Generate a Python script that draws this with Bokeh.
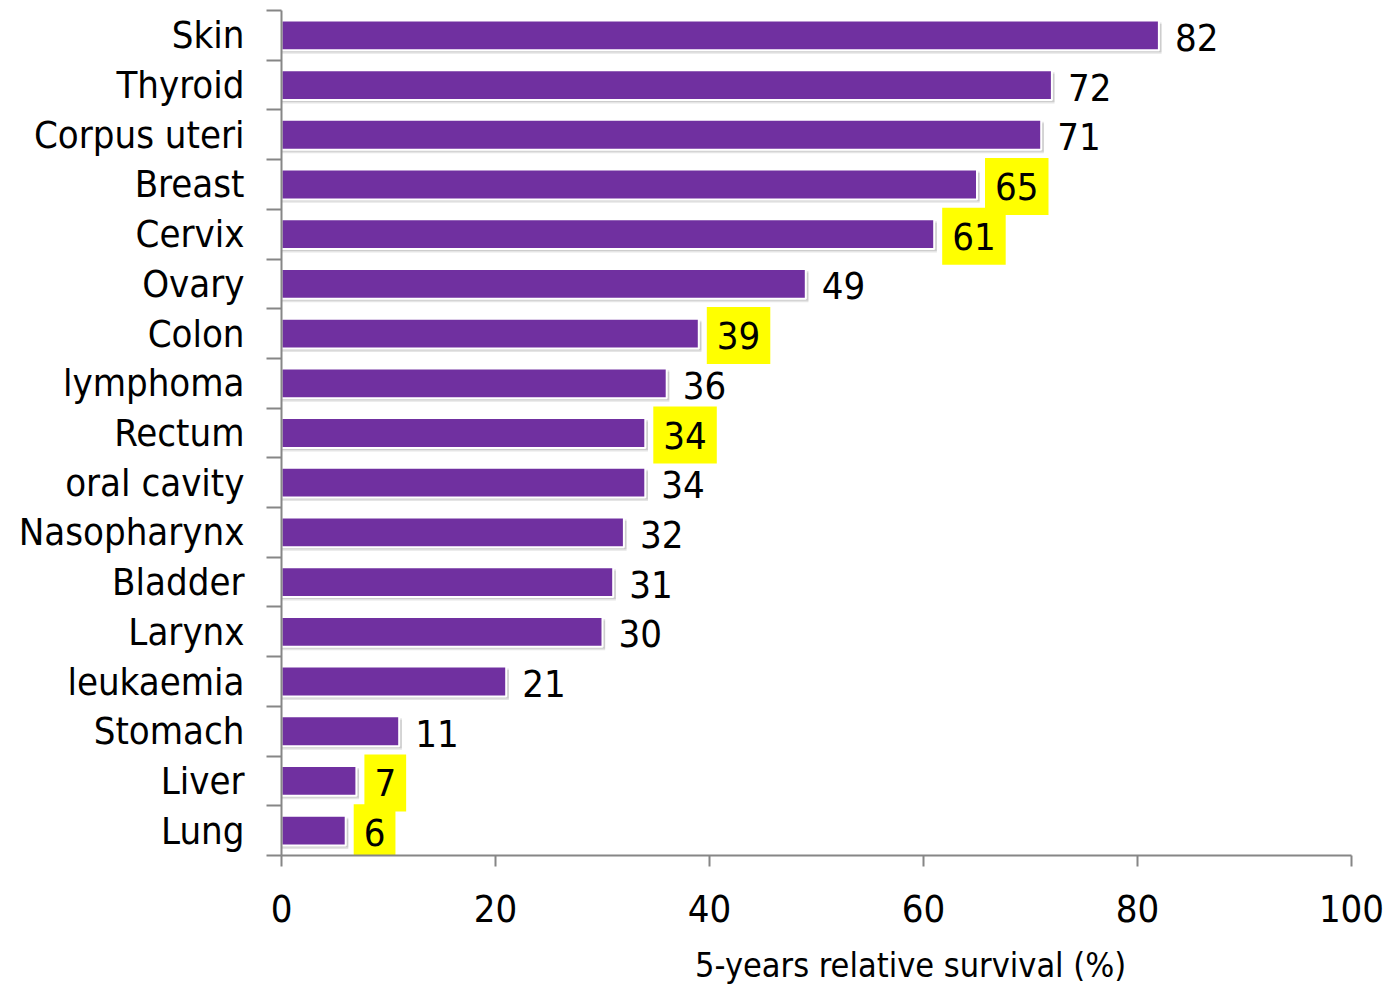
from bokeh.plotting import figure
from bokeh.models import ColumnDataSource, FixedTicker, Range1d, Div
from bokeh.layouts import column
from bokeh.core.properties import value
from bokeh.embed import file_html
from bokeh.resources import INLINE

categories = ["Skin", "Thyroid", "Corpus uteri", "Breast", "Cervix", "Ovary", "Colon",
              "lymphoma", "Rectum", "oral cavity", "Nasopharynx", "Bladder", "Larynx",
              "leukaemia", "Stomach", "Liver", "Lung"]
survival = [82, 72, 71, 65, 61, 49, 39, 36, 34, 34, 32, 31, 30, 21, 11, 7, 6]
highlighted = [False, False, False, True, True, False, True, False, True, False,
               False, False, False, False, False, True, True]
x_ticks = [0, 20, 40, 60, 80, 100]
axis_title = "5-years relative survival (%)"

FONT = "DejaVu Sans Condensed"
GRAY = "#868686"
PURPLE = "#7030A0"

n = len(categories)
ypos = [n - i - 0.5 for i in range(n)]

src = ColumnDataSource(dict(
    y=ypos, v=survival, label=[str(s) for s in survival],
    ys1=[y - 0.07 for y in ypos], ys2=[y - 0.04 for y in ypos],
    vs=[s + 0.25 for s in survival],
))
hi_idx = [i for i, h in enumerate(highlighted) if h]
lo_idx = [i for i, h in enumerate(highlighted) if not h]
src_hi = ColumnDataSource(dict(y=[ypos[i] for i in hi_idx], v=[survival[i] for i in hi_idx],
                               label=[str(survival[i]) for i in hi_idx]))
src_lo = ColumnDataSource(dict(y=[ypos[i] for i in lo_idx], v=[survival[i] for i in lo_idx],
                               label=[str(survival[i]) for i in lo_idx]))

p = figure(width=1388, height=948, output_backend="svg", toolbar_location=None,
           x_range=Range1d(0, 100), y_range=Range1d(0, n),
           min_border_left=281, min_border_right=37, min_border_top=10, min_border_bottom=93)
p.outline_line_color = None
p.xgrid.visible = False
p.ygrid.visible = False
p.background_fill_color = "white"

# shadows
p.hbar(y="ys1", left=0, right="vs", height=0.6, source=src, fill_color="black",
       fill_alpha=0.10, line_color=None)
p.hbar(y="ys2", left=0, right="vs", height=0.6, source=src, fill_color="black",
       fill_alpha=0.10, line_color=None)
# bars
p.hbar(y="y", left=0, right="v", height=0.6, source=src, fill_color=PURPLE,
       line_color="white", line_width=2)

common = dict(x="v", y="y", text="label", y_offset=2,
              text_baseline="middle", text_align="left", text_font=value(FONT),
              text_font_size="38px", text_color="black")
p.text(source=src_lo, x_offset=16, **common)
p.text(source=src_hi, x_offset=8, background_fill_color="#FFFF00",
       padding=dict(x=10, y=15), **common)

# y axis
p.yaxis.ticker = FixedTicker(ticks=ypos, minor_ticks=list(range(n + 1)))
p.yaxis.major_label_overrides = {float(y): c for y, c in zip(ypos, categories)}
p.yaxis.major_tick_line_color = None
p.yaxis.major_tick_out = 0
p.yaxis.major_tick_in = 0
p.yaxis.minor_tick_out = 15
p.yaxis.minor_tick_in = 0
p.yaxis.minor_tick_line_color = GRAY
p.yaxis.minor_tick_line_width = 2
p.yaxis.axis_line_color = GRAY
p.yaxis.axis_line_width = 2
p.yaxis.major_label_standoff = 22
p.yaxis.major_label_text_font = FONT
p.yaxis.major_label_text_font_size = "38px"
p.yaxis.major_label_text_color = "black"

# x axis
p.xaxis.ticker = FixedTicker(ticks=x_ticks)
p.xaxis.major_tick_out = 11
p.xaxis.major_tick_in = 0
p.xaxis.minor_tick_line_color = None
p.xaxis.major_tick_line_color = GRAY
p.xaxis.major_tick_line_width = 2
p.xaxis.axis_line_color = GRAY
p.xaxis.axis_line_width = 2
p.xaxis.major_label_standoff = 28
p.xaxis.major_label_text_font = FONT
p.xaxis.major_label_text_font_size = "38px"
p.xaxis.major_label_text_color = "black"

title_div = Div(text=axis_title, width=650, height=36, margin=(0, 0, 0, 695),
                styles={"font-family": "'DejaVu Sans Condensed', 'DejaVu Sans', sans-serif",
                        "font-size": "34px", "line-height": "34px", "color": "black",
                        "white-space": "nowrap"})

layout = column(p, title_div, spacing=0)
open("out.html", "w").write(file_html(layout, INLINE))
